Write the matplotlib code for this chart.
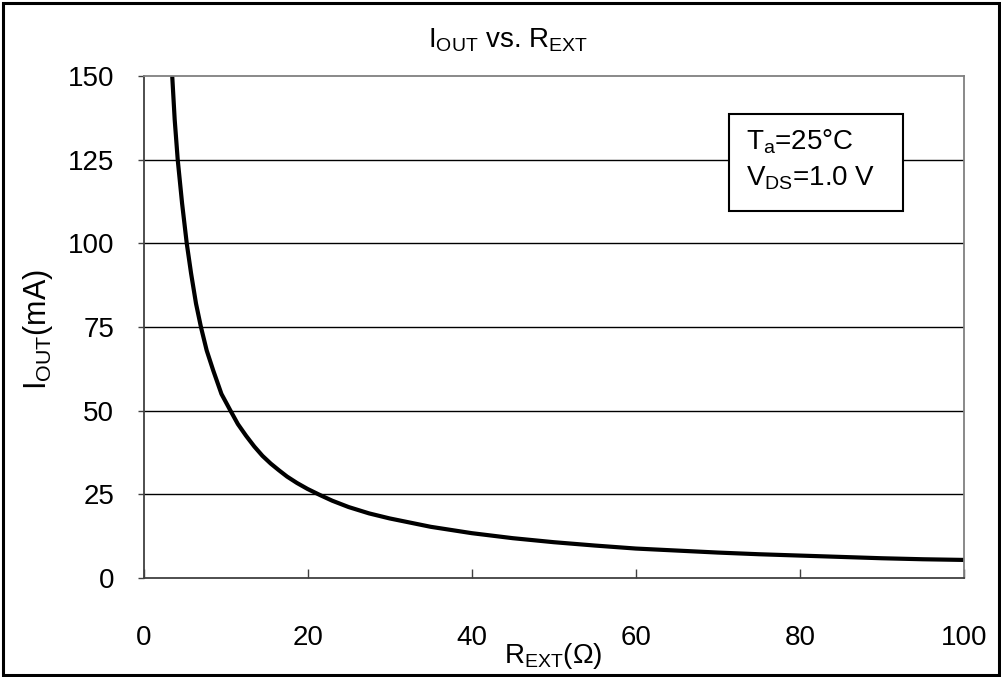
import matplotlib
matplotlib.use("Agg")
import matplotlib.pyplot as plt
from matplotlib.patches import Rectangle

plt.rcParams['font.family'] = ['Liberation Sans', 'DejaVu Sans']
plt.rcParams['mathtext.fontset'] = 'custom'
plt.rcParams['mathtext.rm'] = 'Liberation Sans'
plt.rcParams['mathtext.it'] = 'Liberation Sans'
plt.rcParams['mathtext.default'] = 'rm'

# Data
r_ext = [3.5, 3.8, 4.17, 4.7, 5.27, 5.8, 6.4, 7.0, 7.7, 8.5, 9.5, 10.6,
         11.5, 12.5, 13.5, 14.5, 15.5, 16.5, 17.5, 18.7, 20.0, 21.5, 23,
         25, 27.5, 30, 35, 40, 45, 50, 55, 60, 65, 70,
         75, 80, 85, 90, 95, 100]
i_out = [150, 137, 125, 112, 100, 91, 82, 75, 68, 62, 55, 50,
         46, 42.5, 39.3, 36.5, 34.2, 32.2, 30.3, 28.4, 26.6, 24.8, 23.1,
         21.2, 19.3, 17.8, 15.3, 13.4, 11.9, 10.7, 9.7, 8.8, 8.2, 7.6,
         7.1, 6.7, 6.3, 5.9, 5.6, 5.4]
x_ticks = [0, 20, 40, 60, 80, 100]
y_ticks = [0, 25, 50, 75, 100, 125, 150]

W, H = 1001, 677
fig = plt.figure(figsize=(W / 100, H / 100), dpi=100)
ax = fig.add_axes([143.5 / W, 1 - 578 / H, (964 - 143.5) / W, (578 - 76) / H])

ax.plot(r_ext, i_out, color='black', lw=3.0, solid_joinstyle='round',
        solid_capstyle='butt')

ax.set_xlim(0, 100)
ax.set_ylim(0, 150)
ax.set_xticks(x_ticks)
ax.set_yticks(y_ticks)
for y in y_ticks[1:-1]:
    ax.axhline(y, color='black', lw=1.0, zorder=0)

ax.tick_params(axis='x', direction='in', length=6.5, width=1.0, color='#404040',
               labelsize=20, pad=34)
ax.tick_params(axis='y', direction='out', length=4, width=1.0, color='#404040',
               labelsize=20, pad=17)
for s in ['left', 'bottom']:
    ax.spines[s].set_color('#404040')
    ax.spines[s].set_linewidth(1.3)
for s in ['top', 'right']:
    ax.spines[s].set_color('#808080')
    ax.spines[s].set_linewidth(1.3)

# Title and axis labels
fig.text(508 / W, 1 - 40 / H, r'I$_{\mathrm{OUT}}$ vs. R$_{\mathrm{EXT}}$',
         ha='center', va='center', fontsize=20)
fig.text(553 / W, 1 - 656 / H, r'R$_{\mathrm{EXT}}$(Ω)', ha='center', va='center',
         fontsize=20)
fig.text(38 / W, 1 - 330 / H, r'I$_{\mathrm{OUT}}$(mA)', ha='center', va='center',
         fontsize=22, rotation=90)

# Condition box
fig.patches.append(Rectangle((729 / W, 1 - 211 / H), (903 - 729) / W, (211 - 114) / H,
                             transform=fig.transFigure, facecolor='white',
                             edgecolor='black', lw=1.5, zorder=5))
fig.text(746 / W, 1 - 150 / H, r'T$_{\mathrm{a}}$=25°C', ha='left', va='baseline',
         fontsize=20, zorder=6)
fig.text(746 / W, 1 - 185 / H, r'V$_{\mathrm{DS}}$=1.0 V', ha='left', va='baseline',
         fontsize=20, zorder=6)

# Outer frame
fig.patches.append(Rectangle((2.5 / W, 2.5 / H), (W - 5) / W, (H - 5) / H,
                             transform=fig.transFigure, facecolor='none',
                             edgecolor='black', lw=2.2, zorder=10))

fig.savefig('out.png', dpi=100)
